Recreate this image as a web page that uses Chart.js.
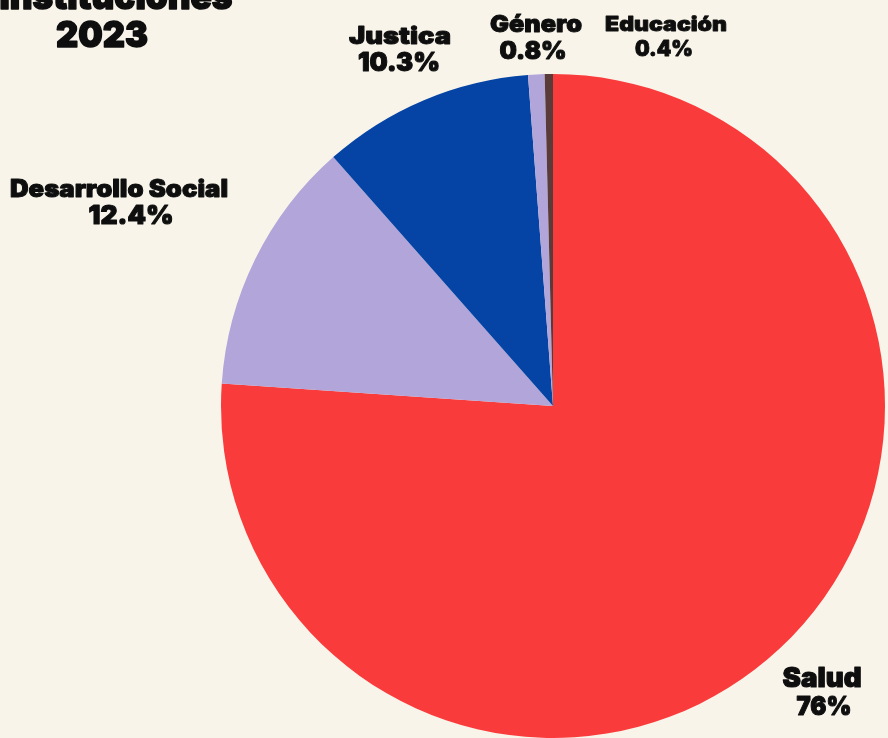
<!DOCTYPE html>
<html>
<head>
<meta charset="utf-8">
<script src="https://cdn.jsdelivr.net/npm/chart.js@4"></script>
<style>
  html, body { margin: 0; padding: 0; background: #F8F4EA; }
  #wrap { width: 888px; height: 738px; position: relative; }
</style>
</head>
<body>
<div id="wrap"><canvas id="c" width="888" height="738"></canvas></div>
<script>
// Presupuesto por institución, 2023 (porcentaje del total)
const categories = ['Salud', 'Desarrollo Social', 'Justica', 'Género', 'Educación'];
const shares = [76, 12.4, 10.3, 0.8, 0.4];
const sliceColors = ['#FA3B3B', '#B1A5D9', '#0544A4', '#B1A5D9', '#5B3A3A'];
const titleLines = ['Instituciones', '2023'];

// label placement: for each slice, name line and value line
// (centre x, baseline y, font size, rendered width of the heavy wide face)
const labelLayout = [
  { name: { x: 822, y: 687, size: 27, w: 79 },  value: { x: 824, y: 715, size: 26, w: 55 } },
  { name: { x: 119, y: 197, size: 24, w: 218 }, value: { x: 131, y: 224, size: 26, w: 85 } },
  { name: { x: 400, y: 44, size: 24, w: 102 },  value: { x: 399, y: 71, size: 26, w: 82 } },
  { name: { x: 536, y: 32, size: 23, w: 92 },   value: { x: 533, y: 59, size: 24, w: 67 } },
  { name: { x: 666, y: 31, size: 20, w: 122 },  value: { x: 664, y: 56, size: 21, w: 58 } }
];
const titleLayout = [
  { x: 116, y: 9, size: 36, w: 233 },
  { x: 102, y: 47, size: 36, w: 92 }
];

const FONT = '"Inter", "Roboto", "DejaVu Sans", sans-serif';

function pct(v) { return String(v) + '%'; }

// draws centred heavy text stretched horizontally to a given width
function wideText(ctx, text, L) {
  ctx.font = '900 ' + L.size + 'px ' + FONT;
  const natural = ctx.measureText(text).width;
  const sx = L.w / natural;
  ctx.save();
  ctx.translate(L.x, L.y);
  ctx.scale(sx, 1);
  ctx.lineWidth = L.size * 0.04;
  ctx.lineJoin = 'round';
  ctx.strokeText(text, 0, 0);
  ctx.fillText(text, 0, 0);
  ctx.restore();
}

const labelsPlugin = {
  id: 'sliceLabels',
  afterDraw(chart) {
    const ctx = chart.ctx;
    ctx.save();
    ctx.fillStyle = '#0E0E0E';
    ctx.strokeStyle = '#0E0E0E';
    ctx.textAlign = 'center';
    ctx.textBaseline = 'alphabetic';
    categories.forEach((name, i) => {
      wideText(ctx, name, labelLayout[i].name);
      wideText(ctx, pct(shares[i]), labelLayout[i].value);
    });
    titleLines.forEach((line, i) => wideText(ctx, line, titleLayout[i]));
    ctx.restore();
  }
};

new Chart(document.getElementById('c'), {
  type: 'pie',
  data: {
    labels: categories,
    datasets: [{
      data: shares,
      backgroundColor: sliceColors,
      borderWidth: 0
    }]
  },
  options: {
    responsive: false,
    animation: false,
    layout: { padding: { left: 221, right: 3, top: 74, bottom: 0 } },
    plugins: {
      legend: { display: false },
      tooltip: { enabled: false },
      title: { display: false }
    }
  },
  plugins: [labelsPlugin]
});
</script>
</body>
</html>
